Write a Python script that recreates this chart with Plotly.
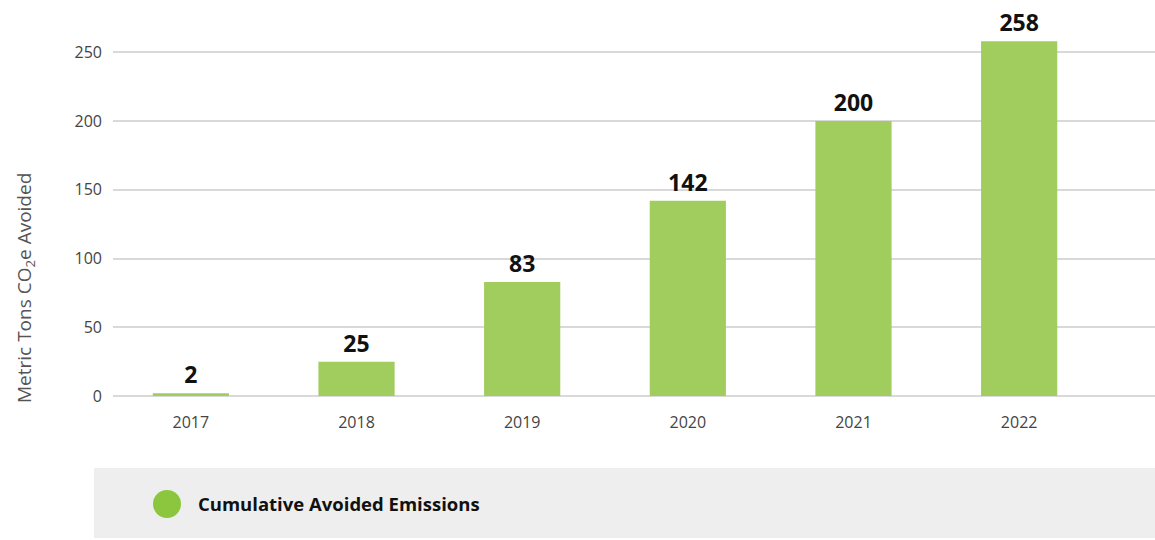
import plotly.graph_objects as go

years = ["2017", "2018", "2019", "2020", "2021", "2022"]
avoided = [2, 25, 83, 142, 200, 258]
series_name = "Cumulative Avoided Emissions"
y_title = "Metric Tons CO<sub>2</sub>e Avoided"

W, H = 1155, 540
ML, MR, MT, MB = 113, 0, 11, 144
PW, PH = W - ML - MR, H - MT - MB

def px_x(x):
    return (x - ML) / PW

def px_y(y):
    return (H - MB - y) / PH

BAR = "#a1cd5e"
DOT = "#8cc63f"
FONT = "Open Sans"

fig = go.Figure()
fig.add_trace(go.Bar(
    x=years, y=avoided, width=0.46, marker=dict(color=BAR, line=dict(width=0)),
    text=[str(v) for v in avoided], textposition="outside",
    textfont=dict(family=FONT, size=23, color="#111111", weight="bold"),
    cliponaxis=False, showlegend=False, name=series_name,
))

fig.update_layout(
    width=W, height=H, margin=dict(l=ML, r=MR, t=MT, b=MB, pad=0),
    plot_bgcolor="white", paper_bgcolor="white",
    font=dict(family=FONT, color="#444444"),
    xaxis=dict(type="category", range=[-0.47, 5.82], showgrid=False, showline=False,
               zeroline=False, ticks="", tickfont=dict(size=16, color="#444444"),
               ticklabelstandoff=15),
    yaxis=dict(range=[0, 280], tickvals=[0, 50, 100, 150, 200, 250], showgrid=True,
               gridcolor="#d9d9d9", gridwidth=2, zeroline=True, zerolinecolor="#d9d9d9",
               zerolinewidth=2, showline=False, ticks="",
               tickfont=dict(size=16, color="#444444"), ticklabelstandoff=10),
    showlegend=False,
)

# legend box
fig.add_shape(type="rect", xref="paper", yref="paper",
              x0=px_x(94), x1=px_x(1155), y0=px_y(538), y1=px_y(468),
              fillcolor="#eeeeee", line=dict(width=0), layer="below")
fig.add_shape(type="circle", xref="paper", yref="paper",
              x0=px_x(153), x1=px_x(181), y0=px_y(518), y1=px_y(490),
              fillcolor=DOT, line=dict(width=0))
fig.add_annotation(text=series_name, xref="paper", yref="paper",
                   x=px_x(196), y=px_y(503), xanchor="left", yanchor="middle",
                   showarrow=False, font=dict(family=FONT, size=18.5, color="#111111", weight="bold"))

# y-axis title
fig.add_annotation(text=y_title, xref="paper", yref="paper",
                   x=px_x(25), y=px_y(288), xanchor="center", yanchor="middle",
                   textangle=-90, showarrow=False,
                   font=dict(family=FONT, size=19, color="#555555"))

fig.write_html("out.html")
